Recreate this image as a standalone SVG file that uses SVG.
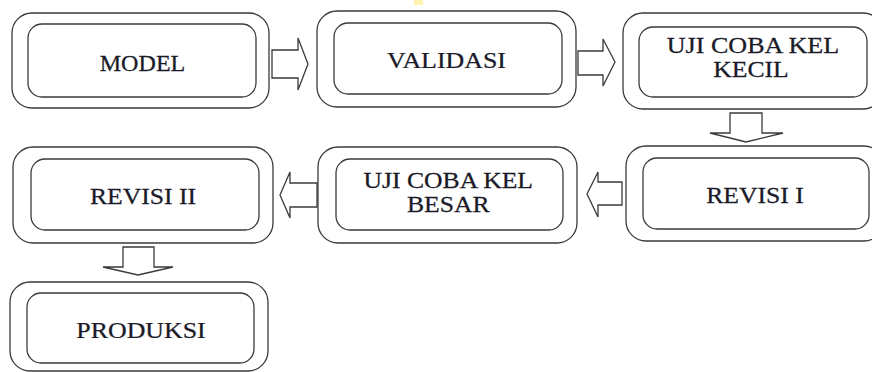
<svg xmlns="http://www.w3.org/2000/svg" width="872" height="372" viewBox="0 0 872 372">
<style>
.o{fill:none;stroke:#3a3a3a;stroke-width:1.3}
.i{fill:none;stroke:#3a3a3a;stroke-width:1.3}
.t{font-family:"Liberation Serif","Times New Roman",serif;font-size:22.5px;fill:#1a1a28;stroke:#1a1a28;stroke-width:0.25;text-anchor:middle}
.a{fill:#fff;stroke:#3a3a3a;stroke-width:1.3;stroke-linejoin:miter}
</style>
<rect x="0" y="0" width="872" height="372" fill="#fff"/>
<rect x="414" y="0" width="9" height="5" fill="#fff3b0"/>
<g id="connectors">
<polygon class="a" points="272,50 298,50 298,38 308,64 298,90 298,78 272,78"/>
<polygon class="a" points="578,51 603,51 603,39 615,62 603,86 603,75 578,75"/>
<polygon class="a" points="730,113 762,113 762,133 783,133 746,142 710,133 730,133"/>
<polygon class="a" points="622,182 598,182 598,172 587,194 598,217 598,205 622,205"/>
<polygon class="a" points="317,183 290,183 290,172 280,195 290,218 290,207 317,207"/>
<polygon class="a" points="123,247 154,247 154,267 173,267 138,275 103,267 123,267"/>
</g>
<g id="model">
<rect class="o" x="12" y="13" width="257" height="95" rx="20"/>
<rect class="i" x="28" y="24" width="228" height="73" rx="14"/>
<text class="t" transform="translate(142.5,71) scale(1.07,1)">MODEL</text>
</g>
<g id="validasi">
<rect class="o" x="317" y="11" width="259" height="96" rx="20"/>
<rect class="i" x="334" y="23" width="228" height="71" rx="14"/>
<text class="t" transform="translate(446.5,68) scale(1.15,1)">VALIDASI</text>
</g>
<g id="uji-kecil">
<rect class="o" x="623" y="13" width="260" height="96" rx="20"/>
<rect class="i" x="639" y="27" width="228" height="70" rx="14"/>
<text class="t" transform="translate(753,53) scale(1.16,1)">UJI COBA KEL</text>
<text class="t" transform="translate(751,77) scale(1.14,1)">KECIL</text>
</g>
<g id="revisi-1">
<rect class="o" x="626" y="146" width="258" height="95" rx="20"/>
<rect class="i" x="643" y="158" width="226" height="71" rx="14"/>
<text class="t" transform="translate(755,203) scale(1.14,1)">REVISI I</text>
</g>
<g id="uji-besar">
<rect class="o" x="318" y="147" width="259" height="96" rx="20"/>
<rect class="i" x="336" y="159" width="227" height="71" rx="14"/>
<text class="t" transform="translate(448.3,188) scale(1.14,1)">UJI COBA KEL</text>
<text class="t" transform="translate(448.3,212) scale(1.14,1)">BESAR</text>
</g>
<g id="revisi-2">
<rect class="o" x="13" y="147" width="260" height="96" rx="20"/>
<rect class="i" x="31" y="159" width="228" height="71" rx="14"/>
<text class="t" transform="translate(143,204) scale(1.14,1)">REVISI II</text>
</g>
<g id="produksi">
<rect class="o" x="10" y="282" width="258" height="89" rx="20"/>
<rect class="i" x="27" y="293" width="227" height="70" rx="14"/>
<text class="t" transform="translate(141,338) scale(1.15,1)">PRODUKSI</text>
</g>
</svg>
